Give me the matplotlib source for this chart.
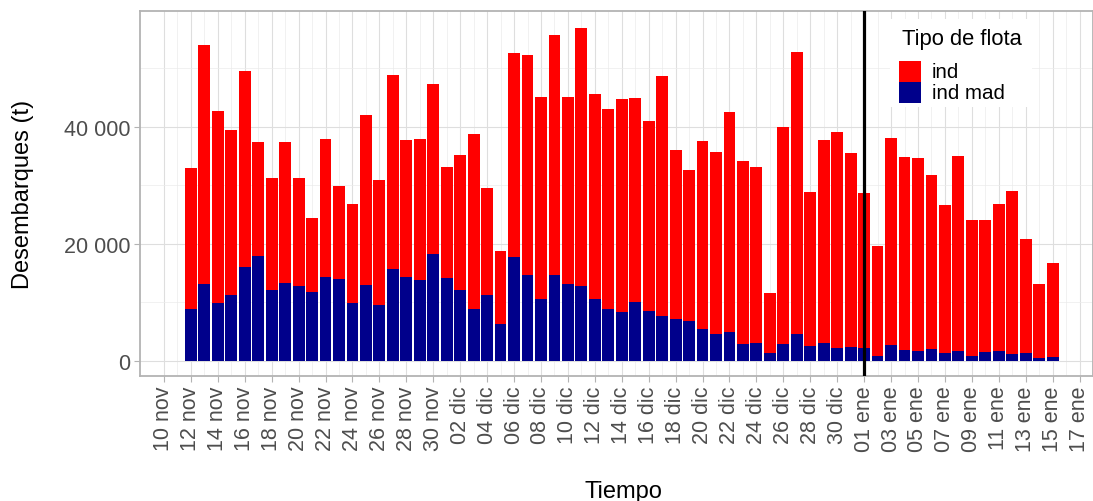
import pandas as pd
import matplotlib
matplotlib.use("Agg")
import matplotlib.pyplot as plt
import matplotlib.dates as mdates
from matplotlib.patches import Rectangle
from matplotlib.ticker import FuncFormatter, MultipleLocator

plt.rcParams['font.family'] = ['Liberation Sans', 'DejaVu Sans']

# Desembarques diarios por tipo de flota (t), 12 nov - 15 ene
fechas = pd.date_range("2021-11-12", "2022-01-15", freq="D")
ind = [24100, 40900, 32870, 28200, 33390, 19480, 19090, 24040, 18460, 12530,
       23640, 15900, 16920, 29050, 21310, 33040, 23350, 24150, 29000,
       19020, 23010, 29800, 18340, 12540, 34860, 37600, 34410, 41070, 31900,
       44040, 35040, 34180, 36290, 34860, 32360, 41130, 28880, 25800, 32120,
       31100, 37600, 31220, 30190, 10370, 37030, 48300, 26210, 34630, 36970,
       33100,
       26430, 18910, 35380, 32870, 32880, 29840, 25240, 33440, 23190, 22620,
       25180, 27910, 19430, 12640, 16060]
ind_mad = [8900, 13160, 9910, 11330, 16120, 17890, 12130, 13330, 12870, 11850,
           14300, 14010, 9910, 12990, 9620, 15780, 14360, 13790, 18340,
           14130, 12190, 8940, 11280, 6320, 17720, 14750, 10650, 14640, 13160,
           12870, 10650, 8940, 8430, 10030, 8600, 7630, 7180, 6840, 5530,
           4560, 5010, 2900, 3020, 1310, 2900, 4560, 2620, 3080, 2220,
           2390,
           2220, 800, 2730, 1940, 1760, 2000, 1420, 1650, 910, 1480,
           1650, 1200, 1420, 460, 630]

fecha_corte = pd.Timestamp("2022-01-01")
meses = {11: "nov", 12: "dic", 1: "ene"}
ticks = pd.date_range("2021-11-10", "2022-01-17", freq="2D")
tick_labels = [f"{d.day:02d} {meses[d.month]}" for d in ticks]

rojo = "#FF0000"
azul = "#00008B"
gris_texto = "#4D4D4D"
gris_borde = "#B3B3B3"

W, H = 1093, 502
fig = plt.figure(figsize=(W / 100, H / 100), dpi=100)
ax = fig.add_axes([140 / W, 125 / H, 953 / W, 365 / H])

x = mdates.date2num(fechas)
ax.bar(x, ind_mad, width=0.88, color=azul, zorder=2)
ax.bar(x, ind, width=0.88, bottom=ind_mad, color=rojo, zorder=2)
ax.axvline(mdates.date2num(fecha_corte), color="black", linewidth=2.3, zorder=3)

x0 = mdates.date2num(ticks[0])
ax.set_xlim(x0 - 1.78, x0 + 68.76)
ax.set_ylim(-2564, 59815)

ax.set_xticks(mdates.date2num(ticks))
ax.set_xticklabels(tick_labels, rotation=90, fontsize=15.5, color=gris_texto)
ax.set_xticks(mdates.date2num(ticks) + 1, minor=True)
ax.yaxis.set_major_locator(MultipleLocator(20000))
ax.yaxis.set_minor_locator(MultipleLocator(10000))
ax.yaxis.set_major_formatter(FuncFormatter(lambda v, p: f"{v:,.0f}".replace(",", " ")))
ax.tick_params(axis="y", labelsize=15.5, labelcolor=gris_texto)
ax.tick_params(which="major", length=4, width=0.8, color=gris_borde, pad=3)
ax.tick_params(which="minor", length=0)

ax.grid(which="major", color="#DEDEDE", linewidth=0.8, zorder=0)
ax.grid(which="minor", color="#EBEBEB", linewidth=0.5, zorder=0)
ax.set_axisbelow(True)
for s in ax.spines.values():
    s.set_color(gris_borde)
    s.set_linewidth(1.3)

ax.set_xlabel("Tiempo", fontsize=17)
ax.xaxis.set_label_coords(0.507, -0.285)
ax.set_ylabel("Desembarques (t)", fontsize=17)
ax.yaxis.set_label_coords(-0.111, 0.5)

# leyenda dibujada a mano (caja blanca, claves pegadas)
def fx(px):
    return px / W

def fy(py):
    return 1 - py / H

fig.patches.append(Rectangle((fx(890), fy(108)), fx(142), 88 / H, transform=fig.transFigure,
                             facecolor="white", edgecolor="none", zorder=4))
fig.text(fx(902), fy(40), "Tipo de flota", fontsize=15.8, va="center", ha="left", zorder=5)
for i, (nombre, color) in enumerate([("ind", rojo), ("ind mad", azul)]):
    top = 62 + i * 21
    fig.patches.append(Rectangle((fx(899), fy(top + 21)), fx(22), 21 / H,
                                 transform=fig.transFigure, facecolor=color,
                                 edgecolor="none", zorder=5))
    fig.text(fx(932), fy(top + 10.5), nombre, fontsize=14.8, va="center", ha="left", zorder=5)

fig.savefig("out.png", dpi=100)
